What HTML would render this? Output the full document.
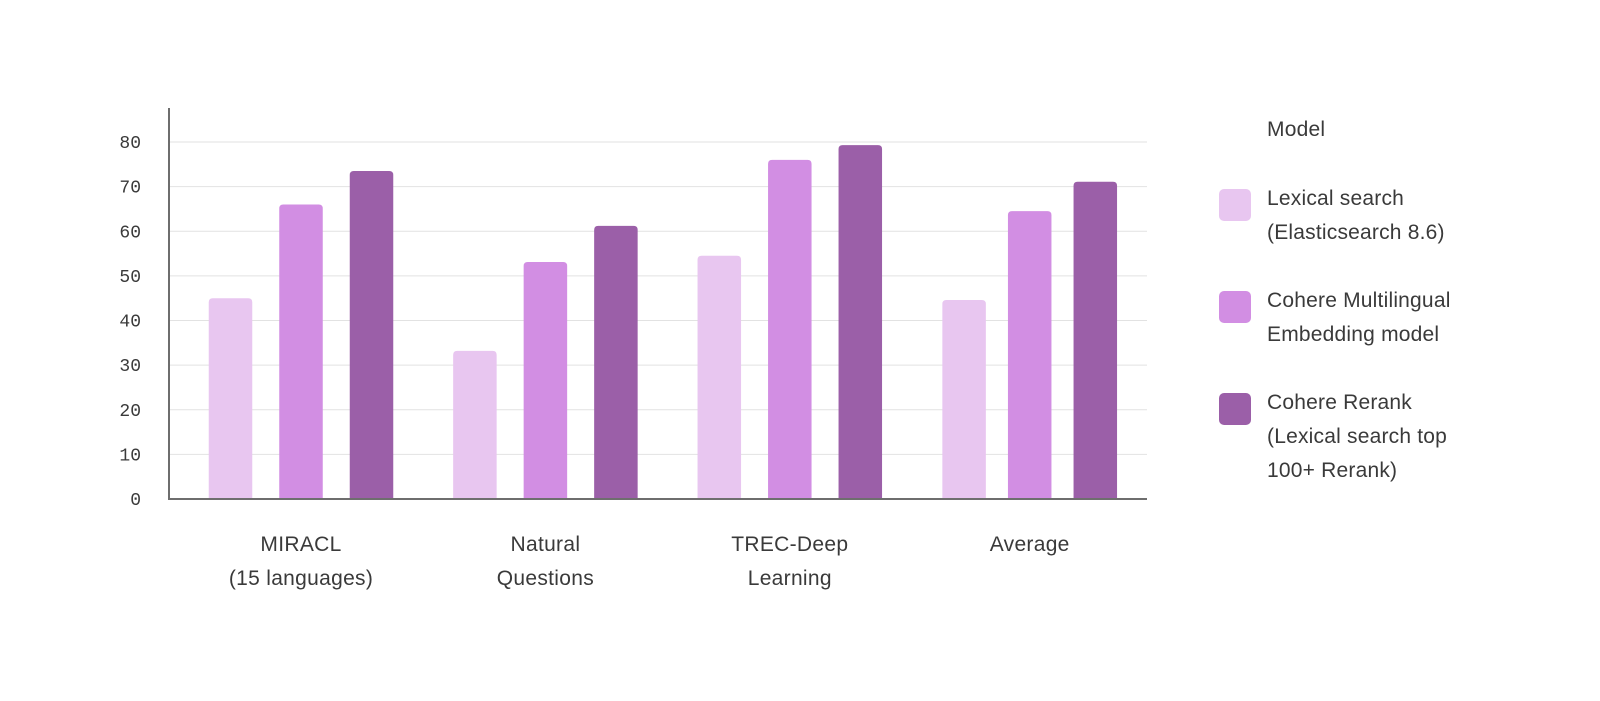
<!DOCTYPE html>
<html><head><meta charset="utf-8"><style>
html,body{margin:0;padding:0;background:#fff;}
svg{display:block;}
text{font-family:"Liberation Sans",sans-serif;fill:#3a3a3a;}
.tick{font-family:"Liberation Mono",monospace;font-size:18px;}
.cat{font-size:21px;letter-spacing:0.3px;}
.leg{font-size:21px;letter-spacing:0.2px;}
</style></head><body>
<svg id="chart" width="1600" height="701" viewBox="0 0 1600 701"></svg>
<script>
const categories=[["MIRACL","(15 languages)"],["Natural","Questions"],["TREC-Deep","Learning"],["Average"]];
const seriesNames=[["Lexical search","(Elasticsearch 8.6)"],["Cohere Multilingual","Embedding model"],["Cohere Rerank","(Lexical search top","100+ Rerank)"]];
const lexical=[45,33.2,54.5,44.6];
const multilingual=[66,53.1,76,64.5];
const rerank=[73.5,61.2,79.3,71.1];
const ticks=[0,10,20,30,40,50,60,70,80];
const colors=["#e8c6f0","#d28ee3","#9b5fa8"];
const series=[lexical,multilingual,rerank];

const NS="http://www.w3.org/2000/svg";
const svg=document.getElementById('chart');
const x0=169,x1=1147,y0=499,k=4.4625;
const y=v=>y0-v*k;
const groupW=244.4;
const groupShift=[0,0,0,-4.5];
const bsteps=[70.5,70.5,70.5,65.6];
const gx=i=>x0+132+groupW*i+groupShift[i];
const bw=43.5;
function mk(t,a){const e=document.createElementNS(NS,t);for(const n in a)e.setAttribute(n,a[n]);svg.appendChild(e);return e;}

ticks.forEach(t=>{
  if(t>0){const g=mk('line',{x1:x0,x2:x1,y1:y(t),y2:y(t),stroke:'#e2e2e2','stroke-width':1});
  
  }
  const l=mk('text',{x:141,y:y(t)+6,'text-anchor':'end',class:'tick'});
  l.textContent=t;
  
  
});

series.forEach((s,si)=>{
  s.forEach((v,ci)=>{
    const bx=gx(ci)+(si-1)*bsteps[ci]-bw/2;
    const r=mk('path',{d:`M${bx},${y0} L${bx},${y(v)+4} Q${bx},${y(v)} ${bx+4},${y(v)} L${bx+bw-4},${y(v)} Q${bx+bw},${y(v)} ${bx+bw},${y(v)+4} L${bx+bw},${y0} Z`,fill:colors[si]});
    
    
  });
});

const ax=mk('line',{x1:x0,x2:x0,y1:108,y2:y0,stroke:'#6e6e6e','stroke-width':2});


const bx=mk('line',{x1:x0-1,x2:x1,y1:y0,y2:y0,stroke:'#6e6e6e','stroke-width':2});



categories.forEach((c,ci)=>{
  c.forEach((line,li)=>{
    const t=mk('text',{x:gx(ci),y:551+li*34,'text-anchor':'middle',class:'cat'});
    t.textContent=line;
    
    
  });
});

const lt=mk('text',{x:1267,y:136,class:'leg'});
lt.textContent='Model';


const legTops=[189,291,393];
seriesNames.forEach((n,si)=>{
  const sw=mk('rect',{x:1219,y:legTops[si],width:32,height:32,rx:5,fill:colors[si]});
  
  
  n.forEach((line,li)=>{
    const t=mk('text',{x:1267,y:legTops[si]+16+li*34,class:'leg'});
    t.textContent=line;
    
    
  });
});
</script>
</body></html>
